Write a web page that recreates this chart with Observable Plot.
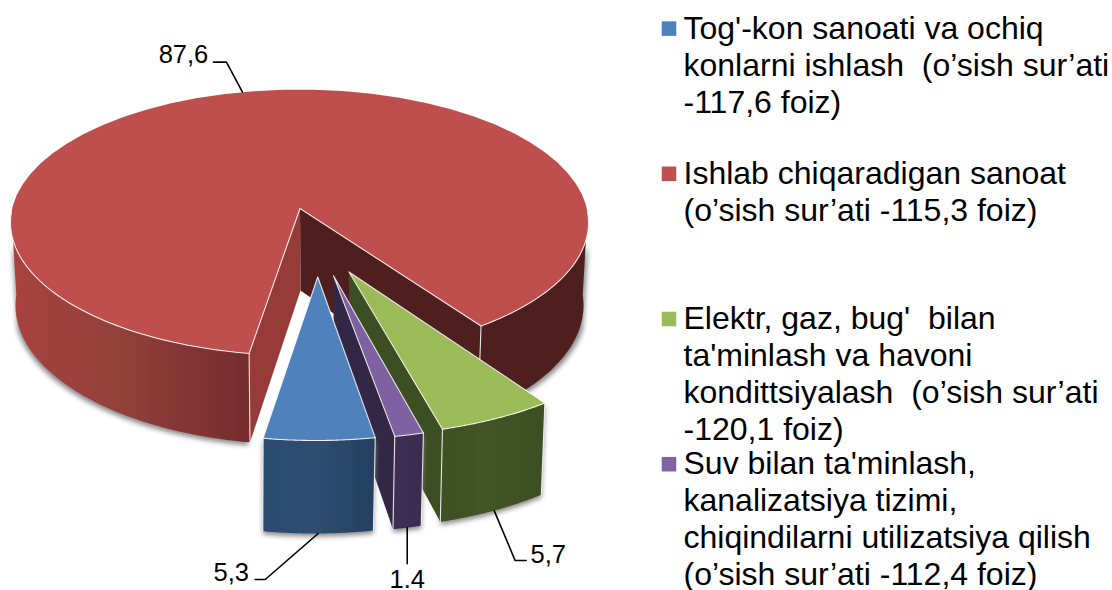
<!DOCTYPE html>
<html>
<head>
<meta charset="utf-8">
<style>
html,body{margin:0;padding:0;background:#fff;overflow:hidden}
.shadow{filter:blur(2.5px)}
</style>
<script src="https://cdn.jsdelivr.net/npm/d3@7"></script>
<script src="https://cdn.jsdelivr.net/npm/@observablehq/plot@0.6"></script>
</head>
<body>
<div id="chart"></div>
<script>
// ---- data (clockwise pie order) ----
const categories = ["Tog'-kon", "Ishlab", "Elektr", "Suv"];
const values = [5.3, 87.6, 5.7, 1.4];
const valueLabels = ["5,3", "87,6", "5,7", "1.4"];
const topColors = ["#4F81BD", "#BE4F4C", "#9BBB59", "#7F60A0"];
const legendColors = ["#4F81BD", "#C0504D", "#9BBB59", "#8064A2"];
const legendLines = [
  ["Tog'-kon sanoati va ochiq", "konlarni ishlash  (o’sish sur’ati", "-117,6 foiz)", ""],
  ["Ishlab chiqaradigan sanoat", "(o’sish sur’ati -115,3 foiz)", "", ""],
  ["Elektr, gaz, bug'  bilan", "ta'minlash va havoni", "kondittsiyalash  (o’sish sur’ati", "-120,1 foiz)"],
  ["Suv bilan ta'minlash,", "kanalizatsiya tizimi,", "chiqindilarni utilizatsiya qilish", "(o’sish sur’ati -112,4 foiz)"]
];

// ---- projection of the pie ----
const rad = Math.PI / 180;
const startAngle = 10.1;            // degrees, measured from "front" of the disc
const warp = a => a + 0.06 * Math.sin(2 * a * rad) / rad; // perspective stretch at the front
const total = d3.sum(values);
let acc = 0;
const slices = values.map((v, i) => {
  const from = startAngle - acc / total * 360;
  acc += v;
  const to = startAngle - acc / total * 360;
  return {i, from, to, mid: (from + to) / 2};
});
const exploded = s => s.i !== 1;
function geometry(s) {
  if (!exploded(s)) return {
    top: {cx: 299, cy: 222, rx: 289, ry: 133},
    bottom: {cx: 299, cy: 305, rx: 284, ry: 139},
    apex: [299.5, 208], apexBottom: [300, 290]
  };
  const m = warp(s.mid) * rad;
  const cx = 314.5 + 84 * Math.sin(m), cy = 251 + 43 * Math.cos(m);
  const ax = 316.5 + 68 * Math.sin(m), ay = cy - 17.5;
  return {
    top: {cx, cy, rx: 303, ry: 146},
    bottom: {cx: cx - 1, cy: cy + 87, rx: 299, ry: 152},
    apex: [ax, ay], apexBottom: [ax, ay + 82]
  };
}
const rimPoint = (e, a) => [e.cx + e.rx * Math.sin(warp(a) * rad), e.cy + e.ry * Math.cos(warp(a) * rad)];
const arc = (e, a, b) => d3.range(0, 61).map(k => rimPoint(e, a + (b - a) * k / 60));

// ---- helpers that turn point lists into Plot marks ----
const poly = (pts, fill, extra = {}) =>
  Plot.line([...pts, pts[0]], {x: d => d[0], y: d => d[1], fill, stroke: "none", curve: "linear", ...extra});
const edge = (pts, extra = {}) =>
  Plot.line(pts, {x: d => d[0], y: d => d[1], stroke: "#fff", strokeWidth: 1.1, strokeOpacity: 0.85, curve: "linear", ...extra});

const wallPts = (g, a, b) => [...arc(g.top, a, b), ...arc(g.bottom, b, a)];
const wedgePts = (g, a, b) => [g.apex, ...arc(g.top, a, b)];
const shifted = (pts, dx, dy) => pts.map(([x, y]) => [x + dx, y + dy]);

const defs = () => {
  const d = d3.create("svg:defs");
  const grad = (id, stops) => {
    const g = d.append("linearGradient").attr("id", id).attr("x1", 0).attr("x2", 1).attr("y1", 0).attr("y2", 0);
    stops.forEach(([o, c]) => g.append("stop").attr("offset", o).attr("stop-color", c));
  };
  grad("redWall", [[0, "#A8423F"], [0.45, "#93403B"], [1, "#752C2D"]]);
  grad("blueWall", [[0, "#2A4B72"], [0.5, "#2F4D70"], [1, "#243F5F"]]);
  grad("greenWall", [[0, "#3E5022"], [0.4, "#435526"], [1, "#3D4F22"]]);
  grad("purpleWall", [[0, "#3F2F55"], [1, "#3A2C50"]]);
  return d.node();
};

const marks = [defs];

// ---- red main slice ----
const red = slices[1], gR = geometry(red);
const rightA = red.to + 360, leftA = red.from;   // rim corners: right of gap / left of gap
const rightC = rimPoint(gR.top, rightA), leftC = rimPoint(gR.top, leftA);
const rightB = rimPoint(gR.bottom, rightA), leftB = rimPoint(gR.bottom, leftA);
const grey = "#8a8a8a";
marks.push(poly(shifted(wallPts(gR, -80, leftA), -1.5, 3), grey, {className: "shadow"}));
marks.push(poly(shifted(wallPts(gR, rightA, 80), 3, 2), grey, {className: "shadow"}));
marks.push(poly(wallPts(gR, rightA, 95), "#4F1F20"));
marks.push(poly([gR.apex, rightC, rightB, gR.apexBottom], "#4F1F20"));
marks.push(poly([gR.apex, leftC, leftB, gR.apexBottom], "#973B39"));
marks.push(poly(wallPts(gR, -95, leftA), "url(#redWall)"));
marks.push(edge([rightC, rightB]));
marks.push(edge([leftC, leftB]));
marks.push(poly([gR.apex, ...arc(gR.top, red.from, red.to)], topColors[1]));
marks.push(edge([...arc(gR.top, -95, leftA), gR.apex, ...arc(gR.top, rightA, 95)]));

// ---- exploded slices, back to front ----
const sideColors = {2: "#3D4E22", 3: "#322845"};
const wallFills = {0: "url(#blueWall)", 2: "url(#greenWall)", 3: "url(#purpleWall)"};
for (const i of [2, 3, 0]) {
  const s = slices[i], g = geometry(s);
  const a = Math.max(s.from, s.to), b = Math.min(s.from, s.to);
  marks.push(poly(shifted(wallPts(g, a, b), 0, 3), grey, {className: "shadow"}));
  if (sideColors[i]) {
    marks.push(poly([g.apex, rimPoint(g.top, b), rimPoint(g.bottom, b), g.apexBottom], sideColors[i]));
  }
  marks.push(poly(wallPts(g, a, b), wallFills[i]));
  marks.push(poly(wedgePts(g, a, b), topColors[i]));
  marks.push(edge([g.apex, ...arc(g.top, a, b), g.apex]));
  marks.push(edge([rimPoint(g.top, a), rimPoint(g.bottom, a)]));
  marks.push(edge([rimPoint(g.top, b), rimPoint(g.bottom, b)]));
}

// ---- leader lines and value labels ----
const leaders = [
  {at: 0.5, rim: "bottom", path: [[-53, 46], [-63, 46]], label: [-87, 39]},
  {at: 0.51, rim: "top", path: [[-16, -30], [-29, -30]], label: [-59, -37]},
  {at: 0.5, rim: "bottom", path: [[21, 50], [32, 50]], label: [54, 44]},
  {at: 0.5, rim: "bottom", path: [[0, 36]], label: [0, 52]}
];
slices.forEach((s, i) => {
  const l = leaders[i], g = geometry(s);
  const anchor = rimPoint(l.rim === "top" ? g.top : g.bottom, s.from + (s.to - s.from) * l.at);
  const pts = [anchor, ...l.path.map(([dx, dy]) => [anchor[0] + dx, anchor[1] + dy])];
  marks.push(Plot.line(pts, {x: d => d[0], y: d => d[1], stroke: "#000", strokeWidth: 1.6, curve: "linear"}));
  marks.push(Plot.text([valueLabels[i]], {
    x: () => anchor[0] + l.label[0], y: () => anchor[1] + l.label[1],
    text: d => d, fontSize: 25.5, fill: "#000", textAnchor: "middle"
  }));
});

// ---- legend on the right ----
const blockStep = 145.2, lineStep = 36.9, firstLine = 28.1, textX = 683, swatchX = 668.5;
const rows = legendLines.flatMap((lines, c) =>
  lines.filter(t => t !== "").map((t, k) => ({text: t, c, k, first: k === 0})));
const rowY = d => firstLine + d.c * blockStep + d.k * lineStep;
marks.push(Plot.text(rows, {
  x: () => textX, y: rowY,
  text: "text", textAnchor: "start", fontSize: 32, fill: "#000"
}));
marks.push(Plot.dot(rows.filter(d => d.first), {
  x: () => swatchX, y: rowY,
  symbol: "square", r: 8.2, fill: d => legendColors[d.c], stroke: "none"
}));

document.getElementById("chart").append(Plot.plot({
  width: 1112, height: 590, margin: 0,
  style: {fontFamily: "'Liberation Sans', Arial, sans-serif", background: "#fff", overflow: "hidden"},
  x: {domain: [0, 1112], range: [0, 1112], axis: null},
  y: {domain: [0, 590], range: [0, 590], axis: null},
  marks
}));
</script>
</body>
</html>
